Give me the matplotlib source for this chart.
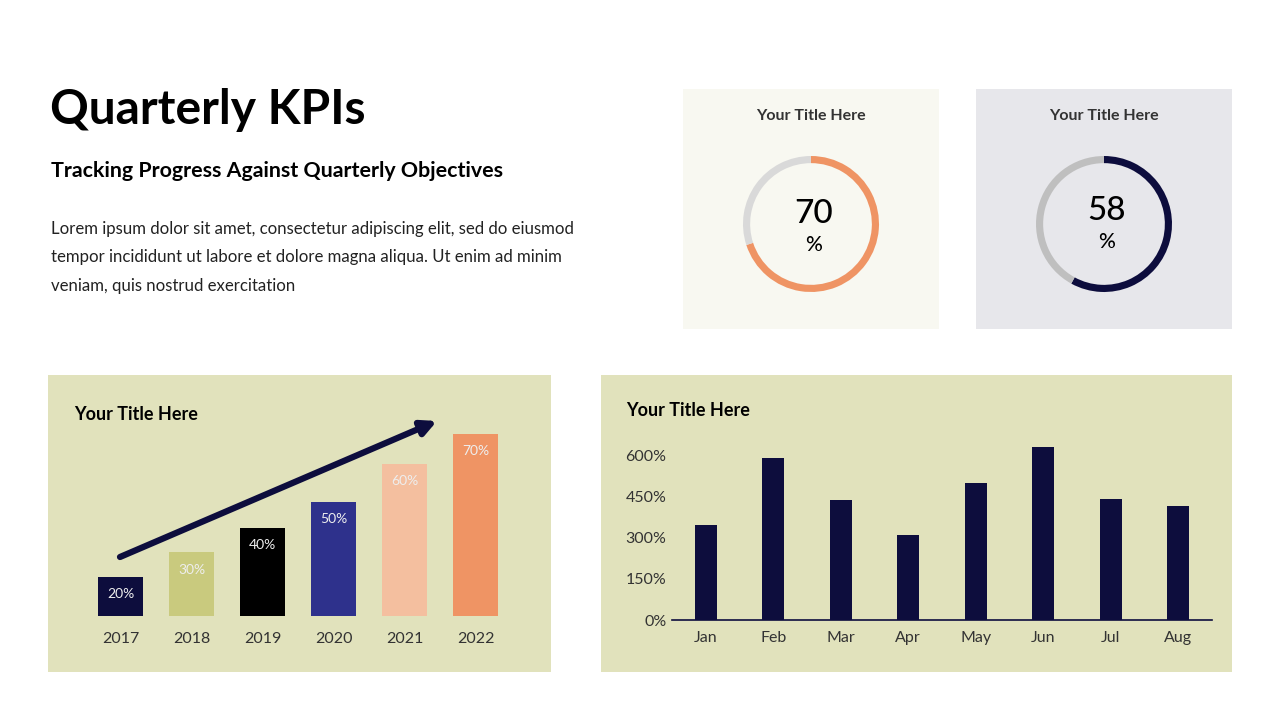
import matplotlib.pyplot as plt
from matplotlib.patches import Rectangle

plt.rcParams['font.family'] = ['Lato', 'DejaVu Sans']

# datos
anios = ['2017', '2018', '2019', '2020', '2021', '2022']
alturas = [1.5, 2.45, 3.4, 4.4, 5.85, 7.0]
etiquetas = ['20%', '30%', '40%', '50%', '60%', '70%']
colores_anios = ['#0d0d3d', '#c9ca7e', '#000000', '#2e318c', '#f4bf9f', '#ef9464']

meses = ['Jan', 'Feb', 'Mar', 'Apr', 'May', 'Jun', 'Jul', 'Aug']
valores_meses = [345, 590, 435, 310, 500, 630, 440, 415]
ticks_y = [0, 150, 300, 450, 600]

kpi_valores = [70, 58]
kpi_colores = ['#ef9464', '#0d0d3d']
kpi_fondo_anillo = ['#d9d9d9', '#bfbfbf']
kpi_paneles = ['#f8f8f1', '#e7e7eb']

W, H = 1280, 720
NAVY = '#0d0d3d'
KHAKI = '#e1e2bc'


def caja(x, y, w, h):
    '''convierte pixeles (origen arriba-izquierda) a fraccion de figura'''
    return [x / W, 1 - (y + h) / H, w / W, h / H]


def px(x, y):
    return x / W, 1 - y / H


fig = plt.figure(figsize=(12.8, 7.2), dpi=100)
fig.patch.set_facecolor('white')


def panel(x, y, w, h, color):
    l, b, ww, hh = caja(x, y, w, h)
    fig.add_artist(Rectangle((l, b), ww, hh, transform=fig.transFigure,
                             facecolor=color, edgecolor='none', zorder=-5))


# encabezado
fig.text(*px(50, 110), 'Quarterly KPIs', fontsize=34.5, fontweight='bold',
         va='center', ha='left', color='black')
fig.text(*px(51, 171), 'Tracking Progress Against Quarterly Objectives',
         fontsize=15.4, fontweight='bold', va='center', ha='left', color='black')
texto = ['Lorem ipsum dolor sit amet, consectetur adipiscing elit, sed do eiusmod',
         'tempor incididunt ut labore et dolore magna aliqua. Ut enim ad minim',
         'veniam, quis nostrud exercitation']
for i, linea in enumerate(texto):
    fig.text(*px(51, 229 + 28.3 * i), linea, fontsize=12.05, va='center',
             ha='left', color='#222222')

# paneles con anillos
for k, (valor, color, gris, fondo) in enumerate(zip(kpi_valores, kpi_colores,
                                                   kpi_fondo_anillo, kpi_paneles)):
    x0 = 683 + 293 * k
    panel(x0, 89, 256, 240, fondo)
    cx, cy = x0 + 128, 224
    fig.text(*px(cx, 116), 'Your Title Here', fontsize=11.5, fontweight='bold',
             ha='center', va='center', color='#333333')
    r = 68
    ax = fig.add_axes(caja(cx - r, cy - r, 2 * r, 2 * r))
    ax.pie([valor, 100 - valor], colors=[color, gris], startangle=90,
           counterclock=False, wedgeprops=dict(width=0.105, edgecolor='none'))
    ax.set_xlim(-1, 1)
    ax.set_ylim(-1, 1)
    ax.set_aspect('equal')
    ax.axis('off')
    dy = -3 if k == 1 else 0
    fig.text(*px(cx + 3, cy - 10 + dy), str(valor), fontsize=24, fontweight='medium',
             ha='center', va='center', color='black')
    fig.text(*px(cx + 3, cy + 21 + dy), '%', fontsize=15, fontweight='medium',
             ha='center', va='center', color='black')

# grafica de barras por anio
panel(48, 375, 503, 297, KHAKI)
fig.text(*px(74, 415), 'Your Title Here', fontsize=13, fontweight='bold',
         ha='left', va='center', color='black')
ax1 = fig.add_axes(caja(85, 408, 426, 208))
ax1.set_facecolor('none')
pos = range(len(anios))
ax1.bar(pos, alturas, width=0.63, color=colores_anios)
for i, (h, et) in enumerate(zip(alturas, etiquetas)):
    ax1.annotate(et, (i, h), xytext=(0, -12.5), textcoords='offset points',
                 ha='center', va='center', fontsize=10, color='#eeeeee')
ax1.set_xlim(-0.5, len(anios) - 0.5)
ax1.set_ylim(0, 8)
ax1.set_xticks(list(pos))
ax1.set_xticklabels(anios, fontsize=11.5, color='#333333')
ax1.tick_params(axis='x', length=0, pad=11.5)
ax1.set_yticks([])
for s in ax1.spines.values():
    s.set_visible(False)
fig.add_artist(plt.Annotation('', xy=px(437, 421), xytext=px(120, 557),
                              xycoords='figure fraction',
                              arrowprops=dict(arrowstyle='-|>', lw=4.5, color=NAVY,
                                              mutation_scale=22, shrinkA=0,
                                              shrinkB=0)))

# grafica de barras por mes
panel(601, 375, 631, 297, KHAKI)
fig.text(*px(626, 411), 'Your Title Here', fontsize=13, fontweight='bold',
         ha='left', va='center', color='black')
ax2 = fig.add_axes(caja(672, 427.5, 540, 192.5))
ax2.set_facecolor('none')
ax2.bar(range(len(meses)), valores_meses, width=0.33, color=NAVY)
ax2.set_xlim(-0.5, len(meses) - 0.5)
ax2.set_ylim(0, 700)
ax2.set_xticks(range(len(meses)))
ax2.set_xticklabels(meses, fontsize=11.5, color='#333333')
ax2.set_yticks(ticks_y)
ax2.set_yticklabels([f'{t}%' for t in ticks_y], fontsize=11.5, color='#333333')
ax2.tick_params(axis='both', length=0)
ax2.tick_params(axis='x', pad=8)
ax2.tick_params(axis='y', pad=4)
for nombre, s in ax2.spines.items():
    s.set_visible(nombre == 'bottom')
ax2.spines['bottom'].set_color(NAVY)
ax2.spines['bottom'].set_linewidth(1.2)

fig.savefig('out.png', dpi=100)
